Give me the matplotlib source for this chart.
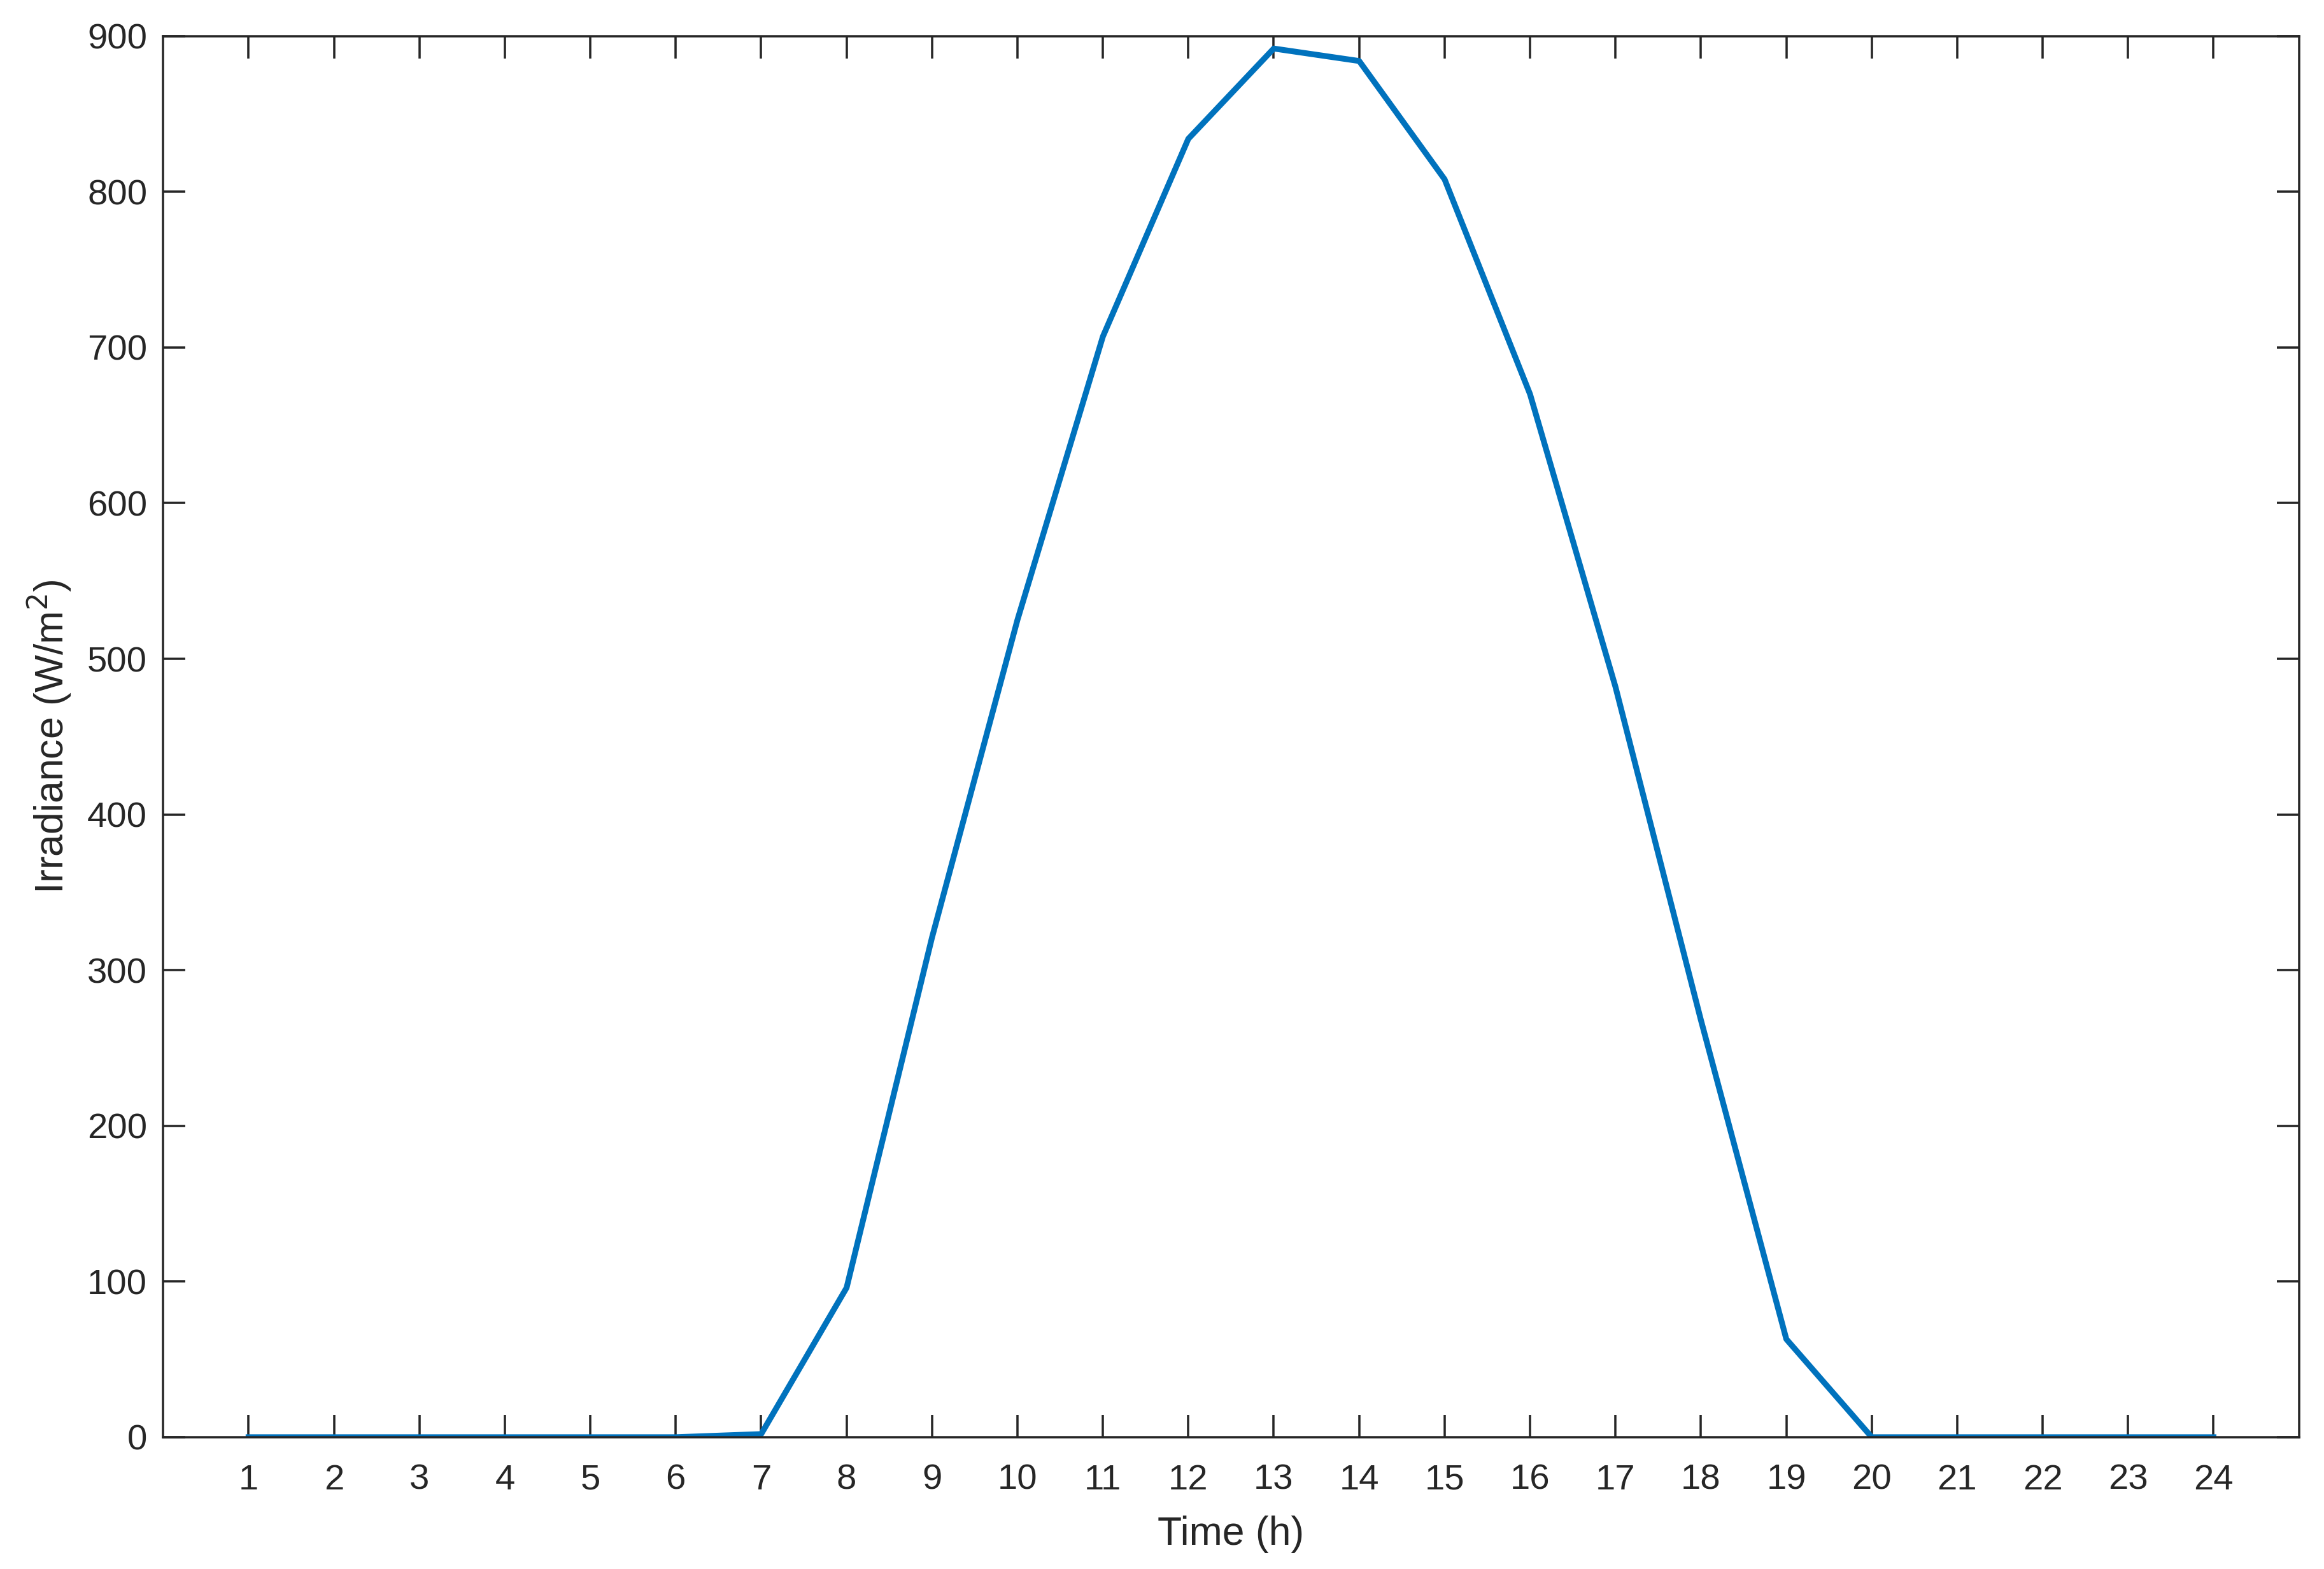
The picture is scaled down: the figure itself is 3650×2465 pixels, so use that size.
import matplotlib.pyplot as plt

plt.rcParams["font.family"] = ["Liberation Sans", "DejaVu Sans"]

# hourly irradiance data
hours = list(range(1, 25))
irradiance = [0, 0, 0, 0, 0, 0, 2, 96, 321, 525, 707, 834, 892, 884,
              808, 670, 482, 268, 63, 0, 0, 0, 0, 0]
y_ticks = [0, 100, 200, 300, 400, 500, 600, 700, 800, 900]

dark = "#262626"

fig = plt.figure(figsize=(3650 / 300, 2465 / 300), dpi=300)
ax = fig.add_axes([0.0702, 0.084, 0.919, 0.893])

ax.plot(hours, irradiance, color="#0072BD", linewidth=2.2)

ax.set_xlim(0, 25)
ax.set_ylim(0, 900)
ax.set_xticks(hours)
ax.set_yticks(y_ticks)
ax.tick_params(direction="in", length=8.5, width=0.85, colors=dark,
               labelsize=13.5, top=True, right=True)
ax.tick_params(axis="x", pad=10)
ax.tick_params(axis="y", pad=6)
for s in ax.spines.values():
    s.set_linewidth(0.85)
    s.set_color(dark)

ax.set_xlabel("Time (h)", fontsize=15, color=dark, labelpad=7)
ax.set_ylabel("Irradiance (W/m$^2$)", fontsize=15, color=dark, labelpad=5)

plt.savefig("out.png", dpi=300)
